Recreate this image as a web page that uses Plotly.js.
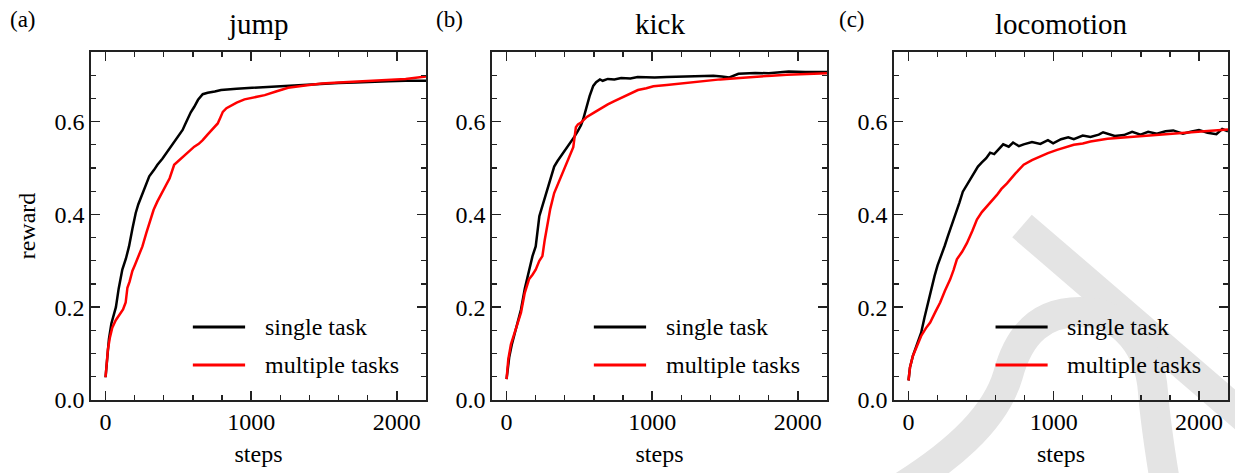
<!DOCTYPE html>
<html>
<head>
<meta charset="utf-8">
<script src="https://cdn.plot.ly/plotly-3.0.1.min.js"></script>
<style>html,body{margin:0;padding:0;background:#fff;}#chart{width:1235px;height:473px;}</style>
</head>
<body>
<div id="chart"></div>
<script>
// ---------- data ----------
const panelTitles = ["jump", "kick", "locomotion"];
const panelLetters = ["(a)", "(b)", "(c)"];
const seriesNames = ["single task", "multiple tasks"];
const xTickVals = [0, 1000, 2000];
const yTickVals = [0.0, 0.2, 0.4, 0.6];

const jumpSingleX = [0, 10, 23, 40, 57, 71, 90, 115, 140, 161, 185, 207, 225, 241, 260, 276, 300, 333, 356, 390, 425, 455, 483, 510, 529, 545, 563, 585, 609, 635, 667, 685, 701, 750, 793, 900, 1023, 1150, 1253, 1370, 1483, 1600, 1713, 1830, 1942, 2060, 2200];
const jumpSingleY = [0.049, 0.09, 0.131, 0.165, 0.188, 0.2, 0.24, 0.281, 0.305, 0.331, 0.37, 0.403, 0.422, 0.435, 0.452, 0.467, 0.482, 0.496, 0.507, 0.52, 0.535, 0.548, 0.560, 0.572, 0.582, 0.593, 0.607, 0.62, 0.632, 0.647, 0.659, 0.661, 0.662, 0.665, 0.668, 0.671, 0.673, 0.676, 0.678, 0.680, 0.682, 0.683, 0.684, 0.686, 0.687, 0.688, 0.688];

const jumpMultiX = [0, 8, 16, 30, 46, 70, 103, 120, 138, 150, 165, 184, 200, 218, 235, 253, 280, 310, 330, 356, 385, 414, 440, 471, 500, 540, 575, 609, 640, 667, 700, 736, 755, 770, 790, 805, 830, 862, 900, 954, 1020, 1093, 1170, 1253, 1370, 1483, 1600, 1713, 1830, 1942, 2060, 2200];
const jumpMultiY = [0.049, 0.08, 0.109, 0.135, 0.156, 0.172, 0.188, 0.195, 0.21, 0.242, 0.255, 0.278, 0.29, 0.303, 0.316, 0.331, 0.36, 0.389, 0.41, 0.428, 0.445, 0.46, 0.478, 0.507, 0.515, 0.525, 0.535, 0.546, 0.552, 0.56, 0.572, 0.585, 0.59, 0.596, 0.61, 0.621, 0.629, 0.635, 0.641, 0.648, 0.652, 0.657, 0.665, 0.673, 0.678, 0.682, 0.684, 0.686, 0.688, 0.689, 0.692, 0.697];

const kickSingleX = [0, 8, 18, 35, 53, 75, 99, 125, 154, 178, 200, 212, 225, 240, 258, 275, 293, 310, 327, 350, 373, 396, 419, 442, 465, 490, 511, 526, 549, 570, 595, 615, 641, 660, 695, 740, 787, 850, 900, 1017, 1100, 1247, 1350, 1420, 1477, 1530, 1592, 1707, 1800, 1937, 2050, 2200];
const kickSingleY = [0.045, 0.07, 0.092, 0.118, 0.138, 0.165, 0.195, 0.24, 0.281, 0.31, 0.331, 0.37, 0.396, 0.412, 0.431, 0.452, 0.471, 0.49, 0.503, 0.515, 0.525, 0.535, 0.546, 0.556, 0.567, 0.58, 0.592, 0.605, 0.633, 0.655, 0.677, 0.685, 0.691, 0.688, 0.692, 0.691, 0.694, 0.693, 0.696, 0.695, 0.696, 0.697, 0.697, 0.699, 0.697, 0.695, 0.703, 0.705, 0.704, 0.708, 0.707, 0.707];

const kickMultiX = [0, 5, 12, 30, 53, 75, 99, 125, 154, 178, 200, 225, 246, 262, 281, 300, 327, 360, 396, 420, 442, 458, 476, 490, 511, 551, 603, 650, 695, 740, 787, 850, 902, 960, 1008, 1100, 1247, 1350, 1467, 1600, 1707, 1820, 1925, 2050, 2200];
const kickMultiY = [0.045, 0.07, 0.088, 0.12, 0.142, 0.165, 0.188, 0.231, 0.26, 0.27, 0.281, 0.3, 0.31, 0.345, 0.381, 0.412, 0.446, 0.472, 0.496, 0.515, 0.535, 0.545, 0.588, 0.594, 0.598, 0.61, 0.62, 0.629, 0.637, 0.644, 0.651, 0.66, 0.668, 0.672, 0.676, 0.679, 0.684, 0.687, 0.691, 0.694, 0.697, 0.699, 0.701, 0.702, 0.704];

const locoSingleX = [0, 10, 30, 60, 87, 110, 133, 155, 179, 200, 225, 250, 271, 300, 328, 350, 374, 400, 432, 455, 478, 505, 535, 562, 590, 620, 652, 690, 720, 760, 793, 850, 908, 960, 996, 1050, 1100, 1138, 1200, 1253, 1310, 1340, 1420, 1483, 1540, 1598, 1650, 1710, 1770, 1823, 1890, 1943, 2000, 2059, 2120, 2160, 2200];
const locoSingleY = [0.042, 0.07, 0.095, 0.12, 0.145, 0.178, 0.21, 0.24, 0.267, 0.29, 0.31, 0.333, 0.353, 0.378, 0.403, 0.425, 0.449, 0.462, 0.478, 0.49, 0.503, 0.512, 0.521, 0.533, 0.53, 0.54, 0.551, 0.546, 0.555, 0.547, 0.551, 0.556, 0.552, 0.56, 0.553, 0.562, 0.566, 0.562, 0.57, 0.567, 0.572, 0.577, 0.569, 0.571, 0.578, 0.572, 0.578, 0.574, 0.579, 0.581, 0.574, 0.578, 0.582, 0.576, 0.573, 0.584, 0.579];

const locoMultiX = [0, 10, 30, 60, 87, 120, 149, 185, 218, 250, 287, 310, 333, 370, 402, 440, 471, 505, 540, 575, 609, 640, 678, 735, 793, 850, 908, 960, 1023, 1080, 1138, 1200, 1253, 1370, 1483, 1600, 1713, 1830, 1943, 2060, 2200];
const locoMultiY = [0.042, 0.07, 0.095, 0.118, 0.138, 0.155, 0.167, 0.19, 0.21, 0.235, 0.26, 0.28, 0.303, 0.32, 0.338, 0.365, 0.389, 0.405, 0.417, 0.43, 0.442, 0.455, 0.467, 0.488, 0.507, 0.517, 0.525, 0.532, 0.539, 0.545, 0.55, 0.553, 0.557, 0.563, 0.566, 0.569, 0.572, 0.575, 0.577, 0.58, 0.583];

const seriesX = [[jumpSingleX, jumpMultiX], [kickSingleX, kickMultiX], [locoSingleX, locoMultiX]];
const seriesY = [[jumpSingleY, jumpMultiY], [kickSingleY, kickMultiY], [locoSingleY, locoMultiY]];
const seriesColors = ["#000000", "#ff0000"];

// ---------- layout helpers ----------
const W = 1235, H = 473;
const fx = p => p / W;
const fy = p => 1 - p / H;
const panelLeft = [91, 492, 894];
const panelRight = [426, 827, 1228];
const panelTop = 52, panelBottom = 400;
const FONT = "Liberation Serif";

const traces = [];
const layout = {
  width: W, height: H,
  margin: {l: 0, r: 0, t: 0, b: 0},
  paper_bgcolor: "#ffffff",
  plot_bgcolor: "rgba(0,0,0,0)",
  showlegend: false,
  font: {family: FONT, color: "#000", size: 24},
  annotations: [],
  shapes: []
};

// watermark (light gray glyph in the lower right of the reference)
const wmColor = "#e4e4e4";
layout.shapes.push({
  type: "line", xref: "paper", yref: "paper", layer: "below",
  x0: fx(1022), y0: fy(226), x1: fx(1252), y1: fy(424),
  line: {color: wmColor, width: 30}
});
const arch = "M" + fx(880) + "," + fy(500) +
  " C" + fx(950) + "," + fy(460) + " " + fx(995) + "," + fy(420) + " " + fx(1008) + "," + fy(375) +
  " C" + fx(1020) + "," + fy(330) + " " + fx(1045) + "," + fy(312) + " " + fx(1080) + "," + fy(312) +
  " C" + fx(1125) + "," + fy(312) + " " + fx(1150) + "," + fy(350) + " " + fx(1153) + "," + fy(392) +
  " C" + fx(1156) + "," + fy(430) + " " + fx(1162) + "," + fy(465) + " " + fx(1168) + "," + fy(500);
layout.shapes.push({
  type: "path", xref: "paper", yref: "paper", layer: "below",
  path: arch, line: {color: wmColor, width: 30}
});

for (let p = 0; p < 3; p++) {
  const sfx = p === 0 ? "" : String(p + 1);
  const xa = "x" + sfx, ya = "y" + sfx;
  for (let s = 0; s < 2; s++) {
    traces.push({
      type: "scatter", mode: "lines", name: seriesNames[s],
      x: seriesX[p][s], y: seriesY[p][s],
      xaxis: xa, yaxis: ya,
      line: {color: seriesColors[s], width: 2.5},
      hoverinfo: "skip"
    });
  }
  const common = {
    showline: true, linewidth: 1.6, linecolor: "#222", mirror: "allticks",
    ticks: "inside", ticklen: 9, tickwidth: 1.5, tickcolor: "#222",
    showgrid: false, zeroline: false,
    tickfont: {family: FONT, size: 24, color: "#000"}
  };
  layout["xaxis" + sfx] = Object.assign({}, common, {
    domain: [fx(panelLeft[p]), fx(panelRight[p])],
    anchor: ya, range: [-100, 2200],
    tickvals: xTickVals, ticktext: xTickVals.map(String),
    minor: {dtick: 200, tick0: 0, ticks: "inside", ticklen: 5, tickwidth: 1.3, tickcolor: "#222"},
    title: {text: "steps", font: {family: FONT, size: 24, color: "#000"}, standoff: 11}
  });
  layout["yaxis" + sfx] = Object.assign({}, common, {
    domain: [fy(panelBottom), fy(panelTop)],
    anchor: xa, range: [0, 0.75],
    tickvals: yTickVals, ticktext: yTickVals.map(v => v.toFixed(1)),
    minor: {dtick: 0.05, tick0: 0, ticks: "inside", ticklen: 5, tickwidth: 1.3, tickcolor: "#222"},
    title: p === 0 ? {text: "reward", font: {family: FONT, size: 24, color: "#000"}, standoff: 12} : {text: ""}
  });
  // panel title and letter
  layout.annotations.push({
    xref: "paper", yref: "paper", x: fx((panelLeft[p] + panelRight[p]) / 2), y: fy(24),
    xanchor: "center", yanchor: "middle", showarrow: false,
    text: panelTitles[p], font: {family: FONT, size: 29, color: "#000"}
  });
  layout.annotations.push({
    xref: "paper", yref: "paper", x: fx([23, 449, 852][p]), y: fy(19),
    xanchor: "center", yanchor: "middle", showarrow: false,
    text: panelLetters[p], font: {family: FONT, size: 23, color: "#000"}
  });
  // in-panel legend
  const legY = [0.2098, 0.1006];
  for (let s = 0; s < 2; s++) {
    layout.shapes.push({
      type: "line", xref: xa + " domain", yref: ya + " domain",
      x0: 0.304, x1: 0.46, y0: legY[s], y1: legY[s],
      line: {color: seriesColors[s], width: 3}
    });
    layout.annotations.push({
      xref: xa + " domain", yref: ya + " domain", x: 0.513, y: legY[s],
      xanchor: "left", yanchor: "middle", showarrow: false,
      text: seriesNames[s], font: {family: FONT, size: 24, color: "#000"}
    });
  }
}

Plotly.newPlot("chart", traces, layout, {staticPlot: true, displayModeBar: false});
</script>
</body>
</html>
